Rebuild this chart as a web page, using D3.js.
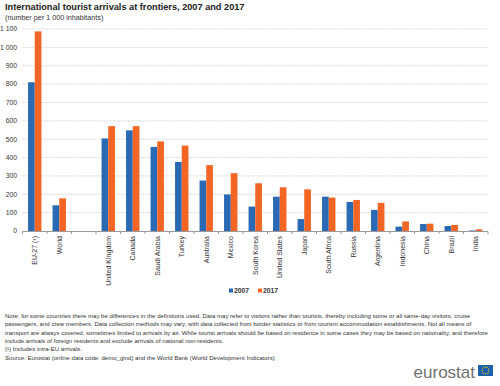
<!DOCTYPE html>
<html>
<head>
<meta charset="utf-8">
<script src="https://cdn.jsdelivr.net/npm/d3@7"></script>
<style>
  body { margin: 0; background: #fff; }
  svg { font-family: "Liberation Sans", Arial, sans-serif; }
  .grid line { stroke: #d9d9d9; stroke-dasharray: 2,1; }
  .axis path, .axis line { stroke: #999; }
  .axis text { fill: #333; font-size: 7px; }
</style>
</head>
<body>
<svg id="chart"></svg>
<script>
var categories = ["EU-27 (\u00b9)", "World", "", "United Kingdom", "Canada", "Saudi Arabia", "Turkey",
    "Australia", "Mexico", "South Korea", "United States", "Japan", "South Africa", "Russia",
    "Argentina", "Indonesia", "China", "Brazil", "India"];
var values2007 = [810, 140, null, 504, 548, 458, 376, 275, 199, 133, 187, 65, 187, 158, 115, 24, 38, 27, 3];
var values2017 = [1087, 178, null, 571, 571, 488, 465, 359, 315, 260, 238, 227, 182, 169, 153, 52, 40, 33, 9];
var seriesNames = ["2007", "2017"];
var yTicks = [0, 100, 200, 300, 400, 500, 600, 700, 800, 900, 1000, 1100];

var noteLines = [
    "Note: for some countries there may be differences in the definitions used. Data may refer to visitors rather than tourists, thereby including some or all same-day visitors, cruise",
    "passengers, and crew members. Data collection methods may vary, with data collected from border statistics or from tourism accommodation establishments. Not all means of",
    "transport are always covered, sometimes limited to arrivals by air. While tourist arrivals should be based on residence in some cases they may be based on nationality, and therefore",
    "include arrivals of foreign residents and exclude arrivals of national non-residents.",
    "(\u00b9) Includes intra-EU arrivals."
];

(function () {
    var WIDTH = 500, HEIGHT = 386;
    var COLORS = ["#2a6ab4", "#f26524"];
    var plot = {left: 22.5, right: 488, top: 29, bottom: 231};

    var svg = d3.select("#chart").attr("width", WIDTH).attr("height", HEIGHT);

    var x = d3.scaleBand().domain(d3.range(categories.length)).range([plot.left, plot.right]);
    var y = d3.scaleLinear().domain([0, 1100]).range([plot.bottom, plot.top]);
    var barW = 6.7;

    function fmt(d) { return d3.format(",")(d).replace(/,/g, " "); }

    // title
    svg.append("text").attr("x", 5).attr("y", 10)
        .style("font-weight", "bold").style("font-size", "9.2px").style("fill", "#222")
        .text("International tourist arrivals at frontiers, 2007 and 2017");
    svg.append("text").attr("x", 5).attr("y", 19.5)
        .style("font-size", "7.2px").style("fill", "#333")
        .text("(number per 1 000 inhabitants)");

    // gridlines
    svg.append("g").attr("class", "grid")
        .selectAll("line").data(yTicks.slice(1)).enter().append("line")
        .attr("x1", plot.left).attr("x2", plot.right)
        .attr("y1", function (d) { return y(d); }).attr("y2", function (d) { return y(d); });

    // y axis labels
    svg.append("g").selectAll("text").data(yTicks).enter().append("text")
        .attr("x", 17).attr("y", function (d) { return y(d) + 2.4; })
        .attr("text-anchor", "end").style("font-size", "6.8px").style("fill", "#333")
        .text(fmt);

    // bars
    var series = [values2007, values2017];
    series.forEach(function (vals, s) {
        svg.append("g").selectAll("rect")
            .data(vals.map(function (v, i) { return {i: i, v: v}; }).filter(function (d) { return d.v !== null; }))
            .enter().append("rect")
            .attr("x", function (d) { return x(d.i) + x.bandwidth() / 2 - barW + s * barW; })
            .attr("width", barW)
            .attr("y", function (d) { return y(d.v); })
            .attr("height", function (d) { return y(0) - y(d.v); })
            .style("fill", COLORS[s]);
    });

    // x axis
    var axis = svg.append("g").attr("class", "axis");
    axis.append("line").attr("x1", plot.left).attr("x2", plot.right)
        .attr("y1", plot.bottom + 0.5).attr("y2", plot.bottom + 0.5);
    axis.selectAll(".tick").data(d3.range(categories.length + 1)).enter().append("line")
        .attr("x1", function (i) { return plot.left + i * x.step(); })
        .attr("x2", function (i) { return plot.left + i * x.step(); })
        .attr("y1", plot.bottom + 0.5).attr("y2", plot.bottom + 3);
    axis.selectAll("text").data(categories).enter().append("text")
        .attr("transform", function (d, i) {
            return "translate(" + (x(i) + x.bandwidth() / 2 + 2.4) + "," + (plot.bottom + 5) + ") rotate(-90)";
        })
        .attr("text-anchor", "end")
        .text(function (d) { return d; });

    // legend
    var legend = svg.append("g");
    seriesNames.forEach(function (name, s) {
        var lx = 229 + s * 29;
        legend.append("rect").attr("x", lx).attr("y", 288.5).attr("width", 4).attr("height", 4).style("fill", COLORS[s]);
        legend.append("text").attr("x", lx + 5).attr("y", 292.5)
            .style("font-size", "6.8px").style("font-weight", "bold").style("fill", "#333").text(name);
    });

    // notes
    var notes = svg.append("g").style("font-size", "6.05px").style("fill", "#333");
    noteLines.forEach(function (line, i) {
        notes.append("text").attr("x", 5).attr("y", 318 + i * 8.3).text(line);
    });
    var src = notes.append("text").attr("x", 5).attr("y", 318 + 5 * 8.3);
    src.append("tspan").style("font-style", "italic").text("Source:");
    src.append("tspan").text(" Eurostat (online data code: demo_gind) and the World Bank (World Development Indicators)");

    // logo
    svg.append("text").attr("x", 475).attr("y", 378).attr("text-anchor", "end")
        .style("font-size", "17px").style("fill", "#707070").style("font-family", "\"Liberation Sans\", Arial, sans-serif")
        .text("eurostat");
    var flag = svg.append("g").attr("transform", "translate(478,365)");
    flag.append("rect").attr("width", 15).attr("height", 11).style("fill", "#1d5fa8");
    flag.selectAll("circle").data(d3.range(12)).enter().append("circle")
        .attr("cx", function (k) { return 7.5 + 3.4 * Math.cos(k * Math.PI / 6); })
        .attr("cy", function (k) { return 5.5 + 3.4 * Math.sin(k * Math.PI / 6); })
        .attr("r", 0.55).style("fill", "#ffdd00");
}());
</script>
</body>
</html>
